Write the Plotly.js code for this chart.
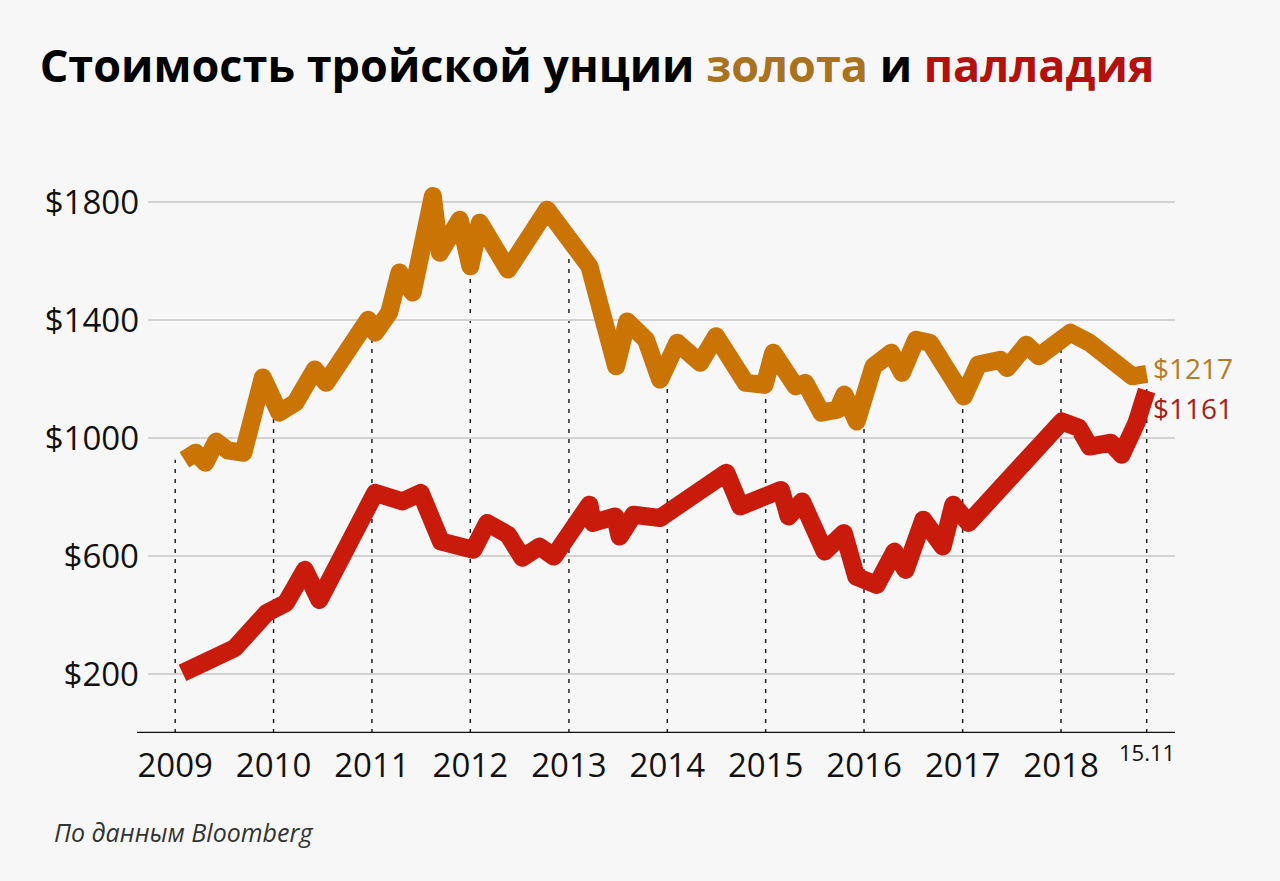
<!DOCTYPE html>
<html>
<head>
<meta charset="utf-8">
<script src="https://cdn.plot.ly/plotly-3.0.1.min.js"></script>
<style>
  html, body { margin: 0; padding: 0; background: #f7f7f7; }
  #chart { width: 1280px; height: 881px; }
  .scatterlayer .js-line { stroke-linejoin: round; }
</style>
</head>
<body>
<div id="chart"></div>
<script>
// Gold price, USD per troy ounce
const goldDates = [
  '2009-02-04','2009-03-18','2009-04-23','2009-06-02','2009-07-15','2009-09-11','2009-11-22',
  '2010-01-22','2010-03-23','2010-06-03','2010-07-15','2010-12-18',
  '2011-01-13','2011-03-06','2011-04-13','2011-06-01','2011-08-15','2011-09-10','2011-11-23',
  '2012-01-01','2012-02-05','2012-05-20','2012-10-12','2012-12-17',
  '2013-02-02','2013-03-18','2013-06-25','2013-08-05','2013-10-14','2013-12-05',
  '2014-02-07','2014-05-03','2014-07-01','2014-10-19','2014-12-28',
  '2015-01-29','2015-04-22','2015-05-28','2015-07-27','2015-09-25','2015-10-20','2015-12-05',
  '2016-02-05','2016-04-11','2016-05-21','2016-07-12','2016-09-02',
  '2017-01-05','2017-02-28','2017-05-21','2017-06-15','2017-08-25','2017-10-11',
  '2018-02-05','2018-04-17','2018-09-23','2018-11-15'
];
const goldValues = [
  926, 950, 916, 988, 958, 950, 1205,
  1086, 1120, 1232, 1187, 1401,
  1357, 1425, 1561, 1493, 1820, 1628, 1740,
  1582, 1730, 1571, 1774, 1696,
  1650, 1582, 1243, 1395, 1333, 1198,
  1323, 1255, 1345, 1187, 1180,
  1289, 1175, 1187, 1086, 1096, 1147, 1056,
  1243, 1289, 1221, 1333, 1323,
  1141, 1249, 1265, 1237, 1316, 1277,
  1357, 1323, 1209, 1217
];

// Palladium price, USD per troy ounce
const palladiumDates = [
  '2009-01-28','2009-08-10','2009-12-06',
  '2010-02-16','2010-04-27','2010-06-20',
  '2011-01-13','2011-04-24','2011-07-01','2011-09-14',
  '2012-01-12','2012-03-04','2012-05-20','2012-07-12','2012-09-14','2012-11-06',
  '2013-03-18','2013-03-31','2013-06-21','2013-07-08','2013-08-29','2013-12-05',
  '2014-08-08','2014-09-29',
  '2015-02-27','2015-03-27','2015-05-16','2015-08-08','2015-10-18','2015-12-03',
  '2016-02-17','2016-04-23','2016-06-03','2016-08-08','2016-10-19','2016-11-27',
  '2017-01-23',
  '2018-01-04','2018-03-08','2018-04-17','2018-07-05','2018-08-14','2018-10-08','2018-11-15'
];
const palladiumValues = [
  204, 288, 407,
  441, 553, 451,
  814, 785, 814, 649,
  621, 712, 672, 594, 632, 598,
  774, 712, 734, 666, 740, 729,
  882, 768,
  824, 734, 785, 615, 678, 530,
  502, 615, 553, 723, 632, 774,
  712,
  1056, 1035, 971, 984, 943, 1052, 1161
];

// Axis ticks
const yearTickDates = ['2009-01-01','2010-01-01','2011-01-01','2012-01-01','2013-01-01','2014-01-01',
  '2015-01-01','2016-01-01','2017-01-01','2018-01-01'];
const yearTickLabels = ['2009','2010','2011','2012','2013','2014','2015','2016','2017','2018'];
const lastDateLabel = '15.11';
const priceTicks = [200, 600, 1000, 1400, 1800];
const priceTickLabels = ['$200', '$600', '$1000', '$1400', '$1800'];

const GOLD = '#cb7406';
const RED = '#c81b0b';
const FONT = 'Open Sans, Noto Sans, sans-serif';

// interpolate gold value at a date (for the dotted year guides)
function goldAt(dateStr) {
  const t = new Date(dateStr).getTime();
  const ts = goldDates.map(d => new Date(d).getTime());
  if (t <= ts[0]) return goldValues[0];
  if (t >= ts[ts.length - 1]) return goldValues[goldValues.length - 1];
  for (let i = 1; i < ts.length; i++) {
    if (t <= ts[i]) {
      const f = (t - ts[i - 1]) / (ts[i] - ts[i - 1]);
      return goldValues[i - 1] + f * (goldValues[i] - goldValues[i - 1]);
    }
  }
}

const guideDates = yearTickDates.concat([goldDates[goldDates.length - 1]]);
const shapes = guideDates.map(d => ({
  type: 'line', xref: 'x', yref: 'y', layer: 'below',
  x0: d, x1: d, y0: 0, y1: goldAt(d),
  line: { color: '#222', width: 1.5, dash: '4px,6px' }
}));
// baseline axis line extending a bit left of the plot area
shapes.push({
  type: 'line', xref: 'paper', yref: 'y', layer: 'above',
  x0: -0.0107, x1: 1, y0: 0, y1: 0,
  line: { color: '#111', width: 2.5 }
});

const traces = [
  {
    x: goldDates, y: goldValues, type: 'scatter', mode: 'lines', name: 'Золото',
    line: { color: GOLD, width: 18 }, hoverinfo: 'skip'
  },
  {
    x: palladiumDates, y: palladiumValues, type: 'scatter', mode: 'lines', name: 'Палладий',
    line: { color: RED, width: 18 }, hoverinfo: 'skip'
  }
];

const annotations = [
  {
    x: goldDates[goldDates.length - 1], y: goldValues[goldValues.length - 1],
    xref: 'x', yref: 'y', xanchor: 'left', yanchor: 'middle', xshift: 4, yshift: 6,
    text: '$' + goldValues[goldValues.length - 1], showarrow: false,
    font: { family: FONT, size: 28, color: '#b67b29' }
  },
  {
    x: palladiumDates[palladiumDates.length - 1], y: palladiumValues[palladiumValues.length - 1],
    xref: 'x', yref: 'y', xanchor: 'left', yanchor: 'middle', xshift: 4, yshift: -17,
    text: '$' + palladiumValues[palladiumValues.length - 1], showarrow: false,
    font: { family: FONT, size: 28, color: '#a5201a' }
  },
  {
    x: goldDates[goldDates.length - 1], y: 0, xref: 'x', yref: 'paper',
    xanchor: 'center', yanchor: 'top', yshift: -2,
    text: lastDateLabel, showarrow: false,
    font: { family: FONT, size: 22, color: '#111' }
  },
  {
    x: -0.0935, y: -0.168, xref: 'paper', yref: 'paper', xanchor: 'left', yanchor: 'middle',
    text: '<i>По данным Bloomberg</i>', showarrow: false,
    font: { family: FONT, size: 25, color: '#333' }
  }
];

const layout = {
  width: 1280, height: 881,
  paper_bgcolor: '#f7f7f7', plot_bgcolor: '#f7f7f7',
  margin: { l: 148, r: 105, t: 143, b: 148 },
  showlegend: false,
  title: {
    text: 'Стоимость тройской унции <span style="color:#a8721e">золота</span> и <span style="color:#b3100e">палладия</span>',
    font: { family: FONT, size: 45, color: '#000', weight: 700 },
    xref: 'container', yref: 'container', x: 0.031, xanchor: 'left', y: 0.925, yanchor: 'middle'
  },
  xaxis: {
    type: 'date',
    range: ['2008-09-22', '2019-02-28'],
    tickvals: yearTickDates, ticktext: yearTickLabels,
    showgrid: false, zeroline: false, showline: false, ticks: '',
    ticklabelstandoff: 10,
    tickfont: { family: FONT, size: 33, color: '#111' }
  },
  yaxis: {
    range: [0, 2000],
    tickvals: priceTicks, ticktext: priceTickLabels,
    showgrid: true, gridcolor: '#d2d2d2', gridwidth: 2,
    zeroline: false, showline: false, ticks: '',
    ticklabelstandoff: 8,
    tickfont: { family: FONT, size: 33, color: '#111' }
  },
  shapes: shapes,
  annotations: annotations
};

Plotly.newPlot('chart', traces, layout, { displayModeBar: false, staticPlot: true });
</script>
</body>
</html>
